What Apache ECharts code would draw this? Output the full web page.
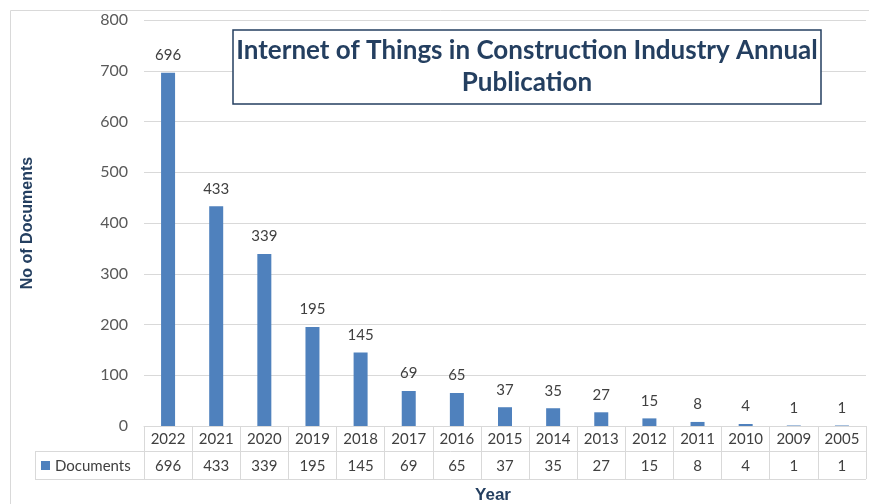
<!DOCTYPE html>
<html>
<head>
<meta charset="utf-8">
<script src="https://cdn.jsdelivr.net/npm/echarts@6/dist/echarts.min.js"></script>
<style>
  html, body { margin: 0; padding: 0; background: #ffffff; }
  #chart { width: 869px; height: 504px; }
</style>
</head>
<body>
<div id="chart"></div>
<script>
const years = ["2022", "2021", "2020", "2019", "2018", "2017", "2016", "2015", "2014", "2013", "2012", "2011", "2010", "2009", "2005"];
const documents = [696, 433, 339, 195, 145, 69, 65, 37, 35, 27, 15, 8, 4, 1, 1];
const seriesName = "Documents";
const chartTitle = "Internet of Things in Construction Industry Annual\nPublication";

const navy = "#243F60";
const gridGray = "#d9d9d9";
const textGray = "#404040";
const barBlue = "#4F81BD";

const chart = echarts.init(document.getElementById("chart"));

const option = {
  animation: false,
  title: {
    text: chartTitle,
    left: 523,
    top: 30,
    textAlign: "center",
    padding: [5, 4, 5, 4],
    borderColor: navy,
    borderWidth: 1.5,
    backgroundColor: "#ffffff",
    textStyle: {
      fontFamily: "Lato",
      fontWeight: "bold",
      fontSize: 26,
      lineHeight: 32,
      color: navy,
    },
  },
  grid: {
    left: 144,
    right: 3,
    top: 20,
    bottom: 78,
    outerBoundsMode: "none",
  },
  xAxis: [
    {
      type: "category",
      data: years,
      position: "bottom",
      axisLine: { lineStyle: { color: gridGray } },
      axisTick: {
        show: true,
        length: 53,
        lineStyle: { color: gridGray },
      },
      axisLabel: {
        color: textGray,
        fontFamily: "Lato",
        fontSize: 15,
        margin: 6,
        interval: 0,
      },
    },
    {
      type: "category",
      data: years,
      position: "bottom",
      offset: 26,
      axisLine: { show: false },
      axisTick: { show: false },
      axisLabel: {
        color: textGray,
        fontFamily: "Lato",
        fontSize: 15,
        margin: 7,
        interval: 0,
        formatter: (value, index) => String(documents[index]),
      },
      name: "Year",
      nameLocation: "middle",
      nameGap: 35,
      nameTextStyle: {
        color: navy,
        fontFamily: "Liberation Sans",
        fontWeight: "bold",
        fontSize: 17,
        padding: [0, 24, 0, 0],
      },
    },
  ],
  yAxis: {
    type: "value",
    min: 0,
    max: 800,
    interval: 100,
    axisLine: { show: false },
    axisTick: { show: false },
    axisLabel: {
      color: "#595959",
      fontFamily: "Lato",
      fontSize: 16,
      margin: 16,
    },
    splitLine: { lineStyle: { color: gridGray } },
    name: "No of Documents",
    nameLocation: "middle",
    nameRotate: 90,
    nameGap: 108,
    nameTextStyle: {
      color: navy,
      fontFamily: "Liberation Sans",
      fontWeight: "bold",
      fontSize: 16,
    },
  },
  series: [
    {
      name: seriesName,
      type: "bar",
      data: documents,
      barWidth: 14,
      itemStyle: { color: barBlue },
      label: {
        show: true,
        position: "top",
        distance: 10,
        color: textGray,
        fontFamily: "Lato",
        fontSize: 15,
      },
    },
  ],
  graphic: [
    // outer chart frame
    {
      type: "rect",
      shape: { x: 10.5, y: 10.5, width: 900, height: 600 },
      style: { fill: null, stroke: gridGray, lineWidth: 1 },
      silent: true,
      z: -10,
    },
    // data table horizontal lines
    {
      type: "line",
      shape: { x1: 35, y1: 451.5, x2: 866, y2: 451.5 },
      style: { stroke: gridGray, lineWidth: 1 },
    },
    {
      type: "line",
      shape: { x1: 35, y1: 479.5, x2: 866, y2: 479.5 },
      style: { stroke: gridGray, lineWidth: 1 },
    },
    {
      type: "line",
      shape: { x1: 35.5, y1: 451, x2: 35.5, y2: 480 },
      style: { stroke: gridGray, lineWidth: 1 },
    },
    // legend key in the table
    {
      type: "rect",
      shape: { x: 41, y: 461, width: 9, height: 9 },
      style: { fill: barBlue },
    },
    {
      type: "text",
      x: 55,
      y: 466,
      style: {
        text: seriesName,
        fill: textGray,
        font: "15px Lato",
        textVerticalAlign: "middle",
      },
    },
  ],
};

chart.setOption(option);
</script>
</body>
</html>
